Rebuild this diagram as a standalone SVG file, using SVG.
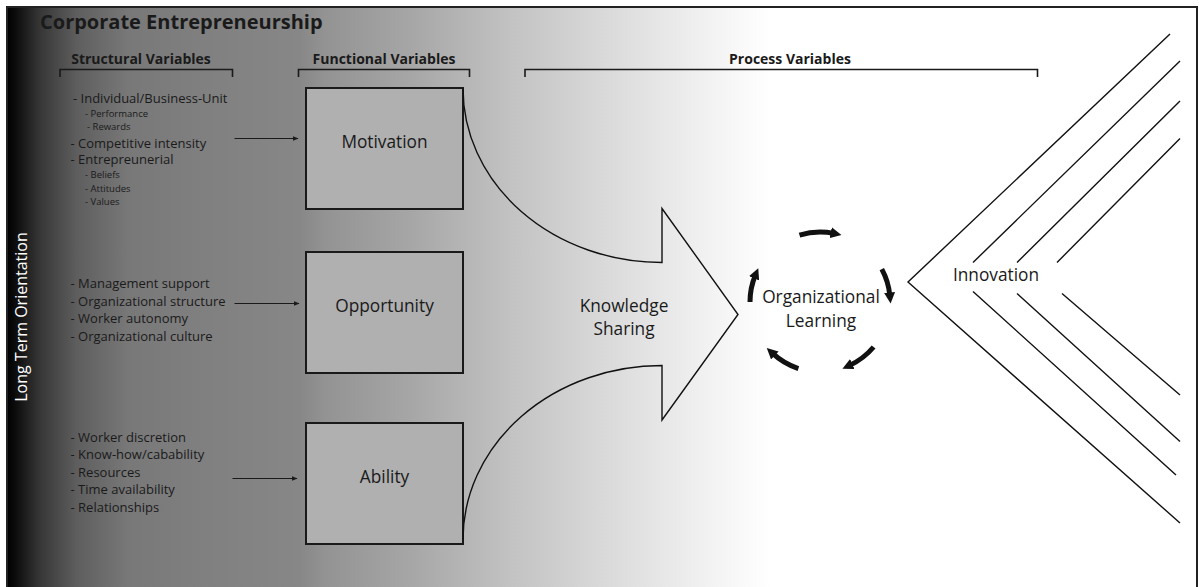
<svg xmlns="http://www.w3.org/2000/svg" width="1199" height="587" viewBox="0 0 1199 587">
  <defs>
    <linearGradient id="bg" gradientUnits="userSpaceOnUse" x1="7" y1="0" x2="800" y2="0">
      <stop offset="0" stop-color="#000000"/>
      <stop offset="0.009" stop-color="#0a0a0a"/>
      <stop offset="0.043" stop-color="#383838"/>
      <stop offset="0.088" stop-color="#5e5e5e"/>
      <stop offset="0.153" stop-color="#787878"/>
      <stop offset="0.25" stop-color="#808080"/>
      <stop offset="0.369" stop-color="#878787"/>
      <stop offset="0.401" stop-color="#939393"/>
      <stop offset="0.508" stop-color="#a6a6a6"/>
      <stop offset="0.638" stop-color="#c3c3c3"/>
      <stop offset="0.767" stop-color="#dcdcdc"/>
      <stop offset="0.897" stop-color="#f4f4f4"/>
      <stop offset="0.962" stop-color="#ffffff"/>
    </linearGradient>
    <marker id="thin-head" viewBox="0 0 10 10" refX="9" refY="5" markerUnits="userSpaceOnUse" markerWidth="6" markerHeight="6" orient="auto">
      <path d="M0,1 L10,5 L0,9 z" fill="#1a1a1a"/>
    </marker>
    <marker id="cycle-head" viewBox="0 0 10 10" refX="3" refY="5" markerUnits="userSpaceOnUse" markerWidth="11" markerHeight="11" orient="auto">
      <path d="M0,0 L10,5 L0,10 z" fill="#111"/>
    </marker>
  </defs>
  <style>
    text { font-family: "Open Sans", "Noto Sans", "Liberation Sans", sans-serif; fill: #1a1a1a; }
    .title { font-size: 20px; font-weight: 700; }
    .head { font-size: 14px; font-weight: 700; }
    .item { font-size: 13px; }
    .sub { font-size: 9.5px; }
    .label { font-size: 17.3px; text-anchor: middle; }
    .bracket { fill: none; stroke: #1a1a1a; stroke-width: 1.6; }
    .box { fill: #b0b0b0; stroke: #1a1a1a; stroke-width: 2; }
    .link { fill: none; stroke: #1a1a1a; stroke-width: 1.2; marker-end: url(#thin-head); }
    .outline { fill: none; stroke: #111; stroke-width: 1.4; }
    .cycle { fill: none; stroke: #111; stroke-width: 5; marker-end: url(#cycle-head); }
  </style>

  <!-- backdrop with frame -->
  <rect x="7" y="7" width="1190" height="592" fill="url(#bg)" stroke="#222" stroke-width="2"/>

  <g id="title">
    <text class="title" x="40" y="29">Corporate Entrepreneurship</text>
  </g>

  <g id="long-term-orientation">
    <text x="27" y="317" font-size="16" text-anchor="middle" transform="rotate(-90 27 317)" style="fill:#ffffff">Long Term Orientation</text>
  </g>

  <!-- column headers and brackets -->
  <g id="structural-header">
    <text class="head" x="141" y="64" text-anchor="middle">Structural Variables</text>
    <path class="bracket" d="M60,77 V69.5 H232.5 V77"/>
  </g>
  <g id="functional-header">
    <text class="head" x="384" y="64" text-anchor="middle">Functional Variables</text>
    <path class="bracket" d="M298.5,77 V69.5 H469.5 V77"/>
  </g>
  <g id="process-header">
    <text class="head" x="790" y="63.5" text-anchor="middle">Process Variables</text>
    <path class="bracket" d="M525,77 V69.5 H1037.5 V77"/>
  </g>

  <!-- structural variable lists -->
  <g id="motivation-factors">
    <text class="item" x="73" y="103">- Individual/Business-Unit</text>
    <text class="sub" x="85" y="117">- Performance</text>
    <text class="sub" x="87" y="130">- Rewards</text>
    <text class="item" x="70.5" y="148">- Competitive intensity</text>
    <text class="item" x="70.5" y="164">- Entrepreunerial</text>
    <text class="sub" x="85" y="178">- Beliefs</text>
    <text class="sub" x="85" y="192">- Attitudes</text>
    <text class="sub" x="85" y="205">- Values</text>
  </g>
  <g id="opportunity-factors">
    <text class="item" x="70.5" y="288">- Management  support</text>
    <text class="item" x="70.5" y="306">- Organizational structure</text>
    <text class="item" x="70.5" y="323">- Worker autonomy</text>
    <text class="item" x="70.5" y="341">- Organizational culture</text>
  </g>
  <g id="ability-factors">
    <text class="item" x="70.5" y="442">- Worker discretion</text>
    <text class="item" x="70.5" y="459">- Know-how/cabability</text>
    <text class="item" x="70.5" y="477">- Resources</text>
    <text class="item" x="70.5" y="494">- Time availability</text>
    <text class="item" x="70.5" y="512">- Relationships</text>
  </g>

  <!-- functional variable boxes -->
  <g id="motivation">
    <rect class="box" x="306" y="88" width="157" height="121"/>
    <text class="label" x="384.5" y="148">Motivation</text>
  </g>
  <g id="opportunity">
    <rect class="box" x="306" y="252" width="157" height="121"/>
    <text class="label" x="384.5" y="312">Opportunity</text>
  </g>
  <g id="ability">
    <rect class="box" x="306" y="423" width="157" height="121"/>
    <text class="label" x="384.5" y="483">Ability</text>
  </g>

  <!-- merging arrow -->
  <g id="knowledge-sharing">
    <path class="outline" d="M463,88.5 A199,174 0 0 0 662,262.5 V208.5 L738,314.5 L662,420 V365.5 A199,174 0 0 0 463,539.5"/>
    <text class="label" x="624" y="311.5">Knowledge</text>
    <text class="label" x="624" y="335">Sharing</text>
  </g>

  <!-- learning cycle, centre (820,302) r 70 -->
  <g id="organizational-learning">
    <path class="cycle" d="M799.5,235.1 A70,70 0 0 1 833.9,233.4"/>
    <path class="cycle" d="M881.8,269.1 A70,70 0 0 1 889.9,295.9"/>
    <path class="cycle" d="M873.6,347.0 A70,70 0 0 1 849.4,365.5"/>
    <path class="cycle" d="M798.4,368.6 A70,70 0 0 1 772.4,353.2"/>
    <path class="cycle" d="M750,302 A70,70 0 0 1 755.3,275.3"/>
    <text class="label" x="821" y="303">Organizational</text>
    <text class="label" x="821" y="327">Learning</text>
  </g>

  <!-- innovation chevrons -->
  <g id="innovation">
    <path class="outline" d="M1170,34 L908,282 L1180,523"/>
    <path class="outline" d="M1180,61 L973,262.5 M1180,101 L1017,262.5 M1180,138.5 L1057,262.5"/>
    <path class="outline" d="M973,291.5 L1176,475 M1017,293.5 L1180,441.5 M1062,293.5 L1180,395"/>
    <text class="label" x="996" y="281">Innovation</text>
  </g>

  <!-- connectors from factor lists to boxes -->
  <g id="connectors">
    <path class="link" d="M234.5,138.5 H298"/>
    <path class="link" d="M234.5,303.5 H299"/>
    <path class="link" d="M232.5,478.5 H297"/>
  </g>
</svg>
